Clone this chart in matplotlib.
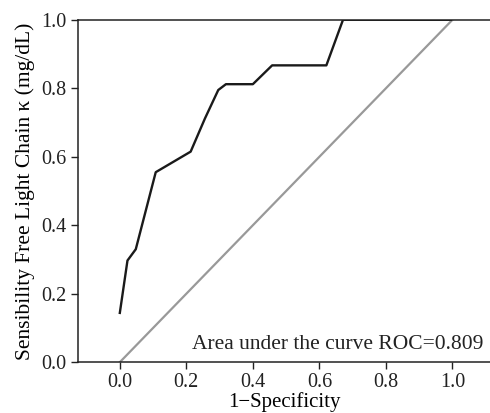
import matplotlib
matplotlib.use('Agg')
import matplotlib.pyplot as plt

plt.rcParams['font.family'] = ['Liberation Serif', 'DejaVu Serif']

# ROC curve points
fpr = [0.0, 0.023, 0.048, 0.108, 0.213, 0.256, 0.296, 0.319, 0.40, 0.458, 0.621, 0.671, 0.995]
tpr = [0.144, 0.297, 0.33, 0.555, 0.615, 0.712, 0.795, 0.812, 0.812, 0.867, 0.867, 1.0, 1.0]
diag = [0.0, 1.0]
auc_text = 'Area under the curve ROC=0.809'
xticks = [0.0, 0.2, 0.4, 0.6, 0.8, 1.0]
yticks = [0.0, 0.2, 0.4, 0.6, 0.8, 1.0]

fig = plt.figure(figsize=(4.9, 4.13), dpi=100)
ax = fig.add_axes([0.159, 0.123, 0.841, 0.829])

ax.plot(diag, diag, color='#999999', linewidth=1.6)
ax.plot(fpr, tpr, color='#1a1a1a', linewidth=1.7)

ax.set_xlim(-0.126, 1.113)
ax.set_ylim(0.0, 1.0)
ax.set_xticks(xticks)
ax.set_yticks(yticks)
ax.set_xticklabels(['%.1f' % v for v in xticks])
ax.set_yticklabels(['%.1f' % v for v in yticks])
ax.tick_params(direction='out', length=5, width=1, labelsize=14.5, colors='#222222', pad=3)
ax.spines['right'].set_visible(False)
for s in ['top', 'left', 'bottom']:
    ax.spines[s].set_linewidth(1.1)
    ax.spines[s].set_color('#222222')

ax.set_xlabel('1\u2212Specificity', fontsize=15, labelpad=0)
ax.set_ylabel('Sensibility Free Light Chain \u03ba (mg/dL)', fontsize=15.5, labelpad=5)
ax.text(0.985, 0.025, auc_text, transform=ax.transAxes, ha='right', va='bottom', fontsize=15.5, color='#222222')

fig.savefig('out.png', dpi=100)
